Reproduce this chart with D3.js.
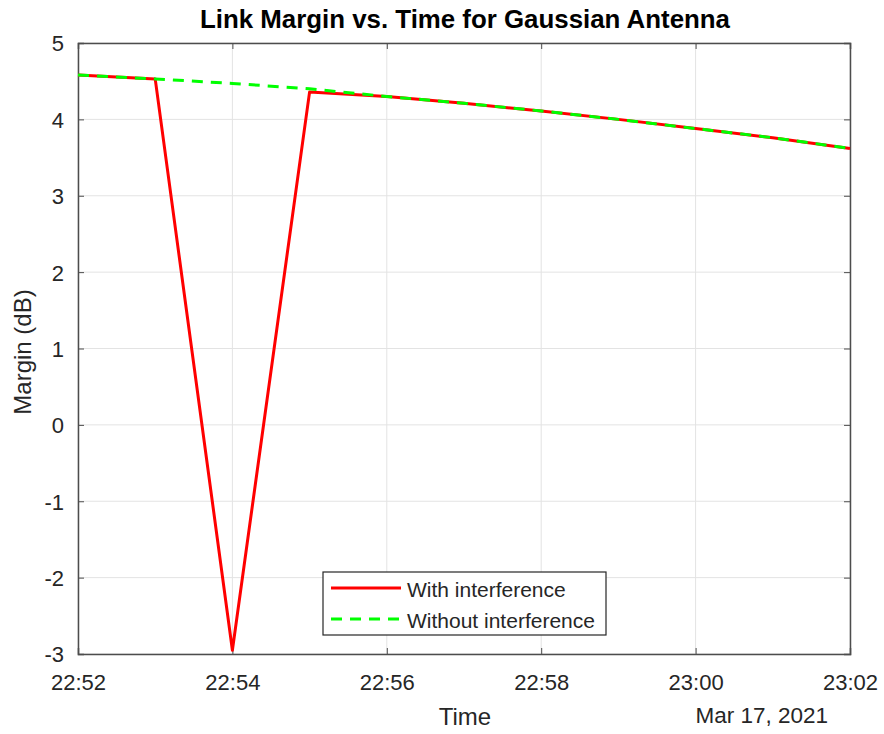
<!DOCTYPE html>
<html><head><meta charset="utf-8">
<script src="https://cdn.jsdelivr.net/npm/d3@7"></script>
<style>body{margin:0;background:#fff}svg{font-family:"Liberation Sans",Arial,sans-serif}</style>
</head><body><svg id="c" width="884" height="734"></svg>
<script>
const times = ["22:52","22:53","22:54","22:55","22:56","22:57","22:58","22:59","23:00","23:01","23:02"];
const withInterference = [4.58,4.53,-2.95,4.36,4.30,4.21,4.11,4.00,3.88,3.76,3.62];
const withoutInterference = [4.58,4.53,4.47,4.40,4.30,4.21,4.11,4.00,3.88,3.76,3.62];
const yTicks = [-3,-2,-1,0,1,2,3,4,5];
const xTickLabels = ["22:52","22:54","22:56","22:58","23:00","23:02"];
const dateLabel = "Mar 17, 2021";
const seriesNames = ["With interference","Without interference"];

const parse = s => { const [h,m] = s.split(":").map(Number); return new Date(2021,2,17,h,m); };
const L=78,R=850,T=43,B=654;
const svg = d3.select("#c");
const x = d3.scaleTime().domain([parse("22:52"),parse("23:02")]).range([L,R]);
const y = d3.scaleLinear().domain([-3,5]).range([B,T]);
const txt="#262626";

// grid
svg.append("g").selectAll("line").data(xTickLabels).join("line")
 .attr("x1",d=>x(parse(d))).attr("x2",d=>x(parse(d))).attr("y1",T).attr("y2",B)
 .attr("stroke","#e3e3e3").attr("stroke-width",1);
svg.append("g").selectAll("line").data(yTicks).join("line")
 .attr("y1",d=>y(d)).attr("y2",d=>y(d)).attr("x1",L).attr("x2",R)
 .attr("stroke","#e3e3e3").attr("stroke-width",1);

// axes
const xb = svg.append("g").attr("transform",`translate(0,${B})`)
 .call(d3.axisBottom(x).tickValues(xTickLabels.map(parse)).tickFormat(d3.timeFormat("%H:%M")).tickSize(-6).tickPadding(0));
const xt = svg.append("g").attr("transform",`translate(0,${T})`)
 .call(d3.axisTop(x).tickValues(xTickLabels.map(parse)).tickFormat("").tickSize(-6));
const yl = svg.append("g").attr("transform",`translate(${L},0)`)
 .call(d3.axisLeft(y).tickValues(yTicks).tickFormat(d=>String(d)).tickSize(-6).tickPadding(14));
const yr = svg.append("g").attr("transform",`translate(${R},0)`)
 .call(d3.axisRight(y).tickValues(yTicks).tickFormat("").tickSize(-6));
[xb,xt,yl,yr].forEach(g=>{
  g.select(".domain").attr("stroke","#4d4d4d").attr("stroke-width",1.5);
  g.selectAll(".tick line").attr("stroke","#4d4d4d");
  g.selectAll(".tick text").attr("fill",txt).attr("font-size",22).attr("font-family","Liberation Sans, Arial, sans-serif");
});
xb.selectAll(".tick text").attr("dy",null).attr("y",36);
yl.selectAll(".tick text").attr("dy","0.36em");

const line = d3.line().x((d,i)=>x(parse(times[i]))).y(d=>y(d));
svg.append("path").attr("d",line(withInterference)).attr("fill","none")
 .attr("stroke","#ff0000").attr("stroke-width",3).attr("stroke-linejoin","round");
svg.append("path").attr("d",line(withoutInterference)).attr("fill","none")
 .attr("stroke","#00ff00").attr("stroke-width",3).attr("stroke-dasharray","11,8");

// titles
svg.append("text").attr("x",465).attr("y",28).attr("text-anchor","middle")
 .attr("font-size",25).attr("font-weight","bold").attr("fill","#000")
 .attr("textLength",530).attr("lengthAdjust","spacingAndGlyphs")
 .text("Link Margin vs. Time for Gaussian Antenna");
svg.append("text").attr("x",465).attr("y",725).attr("text-anchor","middle")
 .attr("font-size",24).attr("fill",txt).text("Time");
svg.append("text").attr("x",828).attr("y",723).attr("text-anchor","end")
 .attr("font-size",22.5).attr("fill",txt).text(dateLabel);
svg.append("text").attr("transform","translate(31,352) rotate(-90)").attr("text-anchor","middle")
 .attr("font-size",24).attr("fill",txt).text("Margin (dB)");

// legend
const lg = svg.append("g");
lg.append("rect").attr("x",323).attr("y",572).attr("width",283).attr("height",63)
 .attr("fill","#fff").attr("stroke","#262626").attr("stroke-width",1.2);
const colors=["#ff0000","#00ff00"], dashes=[null,"11,8"];
seriesNames.forEach((n,i)=>{
  const yy = 588 + i*31;
  lg.append("line").attr("x1",331).attr("x2",401).attr("y1",yy).attr("y2",yy)
   .attr("stroke",colors[i]).attr("stroke-width",3).attr("stroke-dasharray",dashes[i]);
  lg.append("text").attr("x",407).attr("y",yy+9).attr("font-size",21).attr("fill",txt).text(n);
});
</script></body></html>
